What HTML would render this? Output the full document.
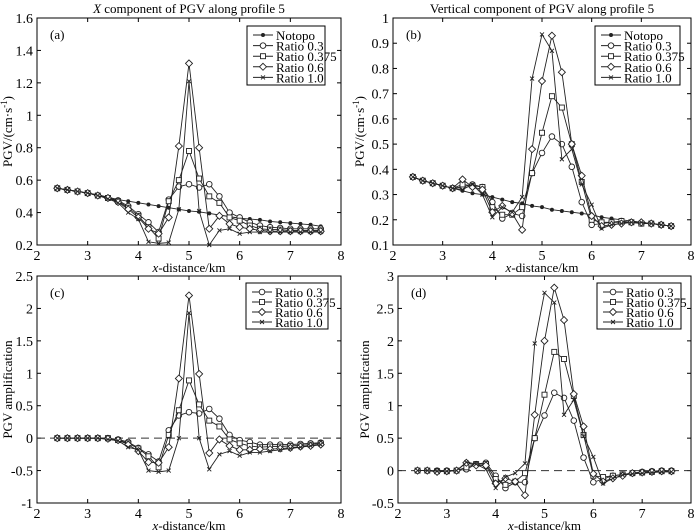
<!DOCTYPE html>
<html><head><meta charset="utf-8"><style>
body{margin:0;background:#fff}
svg{display:block;font-family:"Liberation Serif",serif}
</style></head><body>
<svg id="fig" width="700" height="531" viewBox="0 0 700 531"></svg>
<script>
const xs=[2.4,2.6,2.8,3.0,3.2,3.4,3.6,3.8,4.0,4.2,4.4,4.6,4.8,5.0,5.2,5.4,5.6,5.8,6.0,6.2,6.4,6.6,6.8,7.0,7.2,7.4,7.6];
const xTicks=[2,3,4,5,6,7,8];
const seriesNames=["Notopo","Ratio 0.3","Ratio 0.375","Ratio 0.6","Ratio 1.0"];
const markerTypes=["dot","circle","square","diamond","x"];
// panel a
const aNotopo=[0.55,0.54,0.53,0.52,0.51,0.495,0.48,0.47,0.46,0.45,0.44,0.43,0.42,0.41,0.405,0.395,0.385,0.375,0.365,0.36,0.355,0.345,0.34,0.335,0.33,0.325,0.315];
const aR03=[0.55,0.54,0.53,0.52,0.505,0.49,0.475,0.44,0.39,0.34,0.28,0.48,0.56,0.575,0.555,0.575,0.50,0.40,0.37,0.34,0.32,0.31,0.305,0.30,0.30,0.30,0.30];
const aR0375=[0.55,0.54,0.53,0.52,0.505,0.49,0.47,0.43,0.38,0.31,0.24,0.47,0.60,0.78,0.61,0.50,0.46,0.37,0.35,0.32,0.30,0.295,0.295,0.29,0.29,0.29,0.29];
const aR06=[0.55,0.54,0.53,0.52,0.505,0.49,0.465,0.42,0.37,0.30,0.27,0.37,0.81,1.32,0.80,0.30,0.38,0.33,0.31,0.30,0.29,0.285,0.285,0.285,0.285,0.285,0.285];
const aR10=[0.55,0.54,0.53,0.52,0.505,0.485,0.46,0.40,0.36,0.22,0.21,0.215,0.42,1.21,0.41,0.20,0.29,0.30,0.27,0.28,0.28,0.28,0.28,0.28,0.28,0.28,0.28];
const aTicks=[0.2,0.4,0.6,0.8,1,1.2,1.4,1.6];
// panel b
const bNotopo=[0.37,0.355,0.345,0.335,0.325,0.315,0.305,0.30,0.29,0.28,0.27,0.265,0.255,0.25,0.24,0.235,0.23,0.225,0.22,0.21,0.205,0.20,0.195,0.19,0.185,0.18,0.175];
const bR03=[0.37,0.355,0.345,0.335,0.325,0.33,0.34,0.33,0.27,0.205,0.225,0.215,0.385,0.465,0.53,0.50,0.41,0.27,0.18,0.185,0.19,0.19,0.19,0.185,0.185,0.18,0.175];
const bR0375=[0.37,0.355,0.345,0.335,0.325,0.34,0.335,0.33,0.25,0.22,0.22,0.25,0.385,0.545,0.69,0.645,0.50,0.35,0.20,0.19,0.19,0.195,0.19,0.185,0.185,0.18,0.175];
const bR06=[0.37,0.355,0.345,0.335,0.325,0.36,0.33,0.32,0.23,0.255,0.225,0.16,0.48,0.75,0.93,0.785,0.50,0.375,0.215,0.175,0.18,0.185,0.19,0.19,0.185,0.18,0.175];
const bR10=[0.37,0.355,0.345,0.335,0.325,0.32,0.34,0.30,0.21,0.25,0.23,0.29,0.76,0.935,0.87,0.44,0.48,0.34,0.26,0.165,0.18,0.185,0.19,0.19,0.185,0.18,0.175];
const bTicks=[0.1,0.2,0.3,0.4,0.5,0.6,0.7,0.8,0.9,1];
// panel c
const cR03=[0,0,0,0,0,0,-0.02,-0.06,-0.15,-0.25,-0.36,0.12,0.35,0.40,0.38,0.45,0.30,0.05,-0.03,-0.06,-0.10,-0.10,-0.10,-0.10,-0.09,-0.08,-0.07];
const cR0375=[0,0,0,0,0,0,-0.03,-0.08,-0.16,-0.28,-0.45,0.05,0.43,0.89,0.52,0.27,0.18,-0.02,-0.08,-0.12,-0.14,-0.13,-0.13,-0.12,-0.11,-0.10,-0.08];
const cR06=[0,0,0,0,0,-0.01,-0.03,-0.10,-0.20,-0.37,-0.38,-0.14,0.92,2.2,0.99,-0.23,-0.02,-0.12,-0.18,-0.18,-0.17,-0.17,-0.16,-0.15,-0.13,-0.12,-0.10];
const cR10=[0,0,0,0,0,-0.02,-0.04,-0.14,-0.18,-0.50,-0.52,-0.50,0,1.93,0,-0.48,-0.25,-0.20,-0.27,-0.22,-0.22,-0.20,-0.18,-0.16,-0.14,-0.12,-0.10];
const cTicks=[-1,-0.5,0,0.5,1,1.5,2,2.5];
// panel d
const dR03=[0,0,0,0,0,0.02,0.10,0.12,-0.08,-0.27,-0.18,-0.18,0.50,0.85,1.20,1.12,0.77,0.20,-0.18,-0.13,-0.08,-0.06,-0.04,-0.02,-0.01,0,0];
const dR0375=[0,0,-0.01,-0.01,0,0.05,0.10,0.10,-0.13,-0.22,-0.17,-0.04,0.50,1.17,1.83,1.72,1.15,0.55,-0.08,-0.10,-0.08,-0.06,-0.04,-0.03,-0.02,-0.01,-0.01];
const dR06=[0,0,-0.02,-0.01,0,0.12,0.08,0.08,-0.20,-0.12,-0.17,-0.38,0.86,2.0,2.82,2.32,1.18,0.68,-0.05,-0.17,-0.12,-0.08,-0.04,-0.03,-0.02,-0.01,-0.01];
const dR10=[0,0,-0.01,-0.01,0,0.13,0.10,0.02,-0.27,-0.10,-0.04,0.11,1.96,2.74,2.59,0.86,1.09,0.53,0.21,-0.20,-0.12,-0.07,-0.05,-0.04,-0.03,-0.02,-0.02];
const dTicks=[-0.5,0,0.5,1,1.5,2,2.5,3];

const NS="http://www.w3.org/2000/svg";
const svg=document.getElementById("fig");
function mk(tag,attrs,parent){const e=document.createElementNS(NS,tag);for(const k in attrs)e.setAttribute(k,attrs[k]);(parent||svg).appendChild(e);return e;}

function panel(cfg){
  const g=mk("g",{});
  
  
  const {L,R,T,B,ymin,ymax}=cfg;
  const sx=v=>L+(v-2)/6*(R-L);
  const sy=v=>B-(v-ymin)/(ymax-ymin)*(B-T);
  mk("rect",{x:L,y:T,width:R-L,height:B-T,fill:"none",stroke:"#000","stroke-width":1},g);
  xTicks.forEach(t=>{const x=sx(t);
    mk("line",{x1:x,x2:x,y1:B,y2:B-4,stroke:"#000"},g);mk("line",{x1:x,x2:x,y1:T,y2:T+4,stroke:"#000"},g);
    const tx=mk("text",{x:x,y:B+15,"text-anchor":"middle","font-size":14},g);tx.textContent=t;
    });
  cfg.ticks.forEach(t=>{const y=sy(t);
    mk("line",{x1:L,x2:L+4,y1:y,y2:y,stroke:"#000"},g);mk("line",{x1:R,x2:R-4,y1:y,y2:y,stroke:"#000"},g);
    const tx=mk("text",{x:L-4,y:y+5,"text-anchor":"end","font-size":14},g);tx.textContent=t;
    });
  const xl=mk("text",{x:(L+R)/2,y:B+27,"text-anchor":"middle","font-size":13},g);
  xl.innerHTML='<tspan font-style="italic">x</tspan>-distance/km';
  
  const yl=mk("text",{x:0,y:0,"text-anchor":"middle","font-size":13,transform:`translate(${cfg.ylx},${(T+B)/2}) rotate(-90)`},g);
  yl.innerHTML=cfg.ylabel;
  
  if(cfg.title){const ti=mk("text",{x:(L+R)/2,y:T-5,"text-anchor":"middle","font-size":13},g);ti.innerHTML=cfg.title;
    }
  const pl=mk("text",{x:L+13,y:T+21,"font-size":13},g);pl.textContent=cfg.label;
  
  if(cfg.zero){const z=mk("line",{x1:L,x2:R,y1:sy(0),y2:sy(0),stroke:"#333","stroke-dasharray":"8,5"},g);
    }
  cfg.series.forEach((s,i)=>{
    const pts=xs.map((x,j)=>sx(x)+","+sy(s.data[j])).join(" ");
    const pl=mk("polyline",{points:pts,fill:"none",stroke:"#222","stroke-width":0.9},g);
    
    xs.forEach((x,j)=>{const m=marker(sx(x),sy(s.data[j]),s.m,g);
      });
  });
  const lg=cfg.legend;
  const n=cfg.series.length;
  const lr=mk("rect",{x:lg.x,y:lg.y,width:lg.w,height:lg.h,fill:"#fff",stroke:"#000"},g);
  
  cfg.series.forEach((s,i)=>{const y=lg.y+6+i*(lg.h-6)/n+3;
    mk("line",{x1:lg.x+6,x2:lg.x+26,y1:y,y2:y,stroke:"#222"},g);
    const m=marker(lg.x+16,y,s.m,g);
    const t=mk("text",{x:lg.x+29,y:y+5,"font-size":13},g);t.textContent=s.n;
    });
}
function marker(x,y,t,g){
  const st={fill:"#fff",stroke:"#222","stroke-width":0.9};
  if(t==="dot")return mk("circle",{cx:x,cy:y,r:2,fill:"#222"},g);
  if(t==="circle")return mk("circle",Object.assign({cx:x,cy:y,r:2.8},st),g);
  if(t==="square")return mk("rect",Object.assign({x:x-2.5,y:y-2.5,width:5,height:5},st),g);
  if(t==="diamond")return mk("polygon",Object.assign({points:`${x},${y-3.5} ${x+3.5},${y} ${x},${y+3.5} ${x-3.5},${y}`},st),g);
  return mk("path",{d:`M${x-2},${y-2}L${x+2},${y+2}M${x-2},${y+2}L${x+2},${y-2}`,stroke:"#222","stroke-width":0.9},g);
}
const pgvLabel='PGV/(cm·s<tspan dy="-5" font-size="9">-1</tspan><tspan dy="5">)</tspan>';
panel({name:"panel-a",L:37,R:341,T:18,B:245,ymin:0.2,ymax:1.6,ticks:aTicks,ylx:12,ylabel:pgvLabel,
  title:'<tspan font-style="italic">X</tspan> component of PGV along profile 5',label:"(a)",
  legend:{x:247,y:26,w:78,h:59},
  series:[{n:seriesNames[0],m:markerTypes[0],data:aNotopo},{n:seriesNames[1],m:markerTypes[1],data:aR03},{n:seriesNames[2],m:markerTypes[2],data:aR0375},{n:seriesNames[3],m:markerTypes[3],data:aR06},{n:seriesNames[4],m:markerTypes[4],data:aR10}]});
panel({name:"panel-b",L:393,R:691,T:18,B:245,ymin:0.1,ymax:1,ticks:bTicks,ylx:364,ylabel:pgvLabel,
  title:'Vertical component of PGV along profile 5',label:"(b)",
  legend:{x:595,y:26,w:85,h:59},
  series:[{n:seriesNames[0],m:markerTypes[0],data:bNotopo},{n:seriesNames[1],m:markerTypes[1],data:bR03},{n:seriesNames[2],m:markerTypes[2],data:bR0375},{n:seriesNames[3],m:markerTypes[3],data:bR06},{n:seriesNames[4],m:markerTypes[4],data:bR10}]});
panel({name:"panel-c",L:37,R:341,T:276,B:503,ymin:-1,ymax:2.5,ticks:cTicks,ylx:12,ylabel:"PGV amplification",zero:true,label:"(c)",
  legend:{x:246,y:283,w:82,h:46},
  series:[{n:seriesNames[1],m:markerTypes[1],data:cR03},{n:seriesNames[2],m:markerTypes[2],data:cR0375},{n:seriesNames[3],m:markerTypes[3],data:cR06},{n:seriesNames[4],m:markerTypes[4],data:cR10}]});
panel({name:"panel-d",L:398,R:691,T:276,B:503,ymin:-0.5,ymax:3,ticks:dTicks,ylx:369,ylabel:"PGV amplification",zero:true,label:"(d)",
  legend:{x:597,y:283,w:84,h:46},
  series:[{n:seriesNames[1],m:markerTypes[1],data:dR03},{n:seriesNames[2],m:markerTypes[2],data:dR0375},{n:seriesNames[3],m:markerTypes[3],data:dR06},{n:seriesNames[4],m:markerTypes[4],data:dR10}]});
</script>
</body></html>
